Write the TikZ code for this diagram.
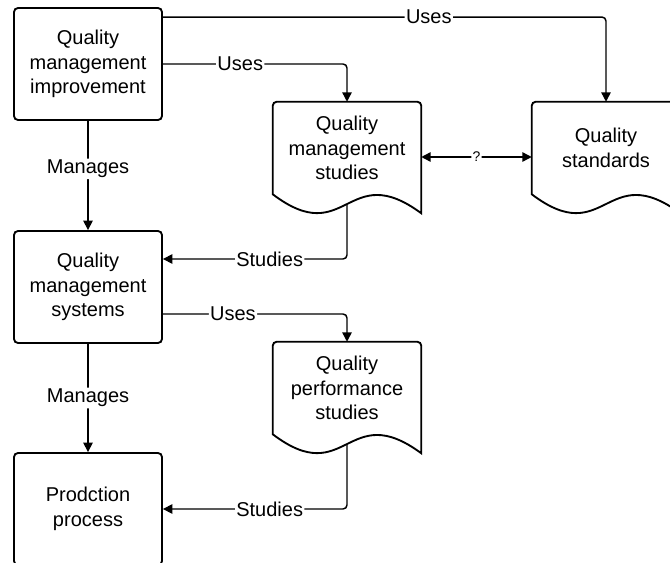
\documentclass[tikz,border=0pt]{standalone}
\usepackage{fontspec}
\setmainfont{Liberation Sans}
\usetikzlibrary{arrows.meta,calc}

% outline of a document shape around a named node
\newcommand{\docoutline}[1]{%
  \draw[line width=1.4pt] (#1.south west) [rounded corners=3pt] -- (#1.north west) -- (#1.north east) [sharp corners]
    -- ($(#1.south east)+(0,-19)$) .. controls ($(#1.south west)+(74,36)$) and ($(#1.south west)+(74,-56)$) .. (#1.south west) -- cycle;}

\begin{document}
\begin{tikzpicture}[x=0.75pt, y=0.75pt,
    box/.style={draw, line width=1.4pt, rounded corners=3pt, minimum width=111pt, minimum height=84pt, inner sep=0pt, align=center, font=\fontsize{15pt}{18.5pt}\selectfont},
    doc/.style={minimum width=111pt, minimum height=69pt, inner sep=0pt, align=center, font=\fontsize{15pt}{18.5pt}\selectfont},
    conn/.style={line width=1.1pt, rounded corners=3pt, -{Triangle[length=7pt,width=7pt]}},
    lbl/.style={fill=white, inner sep=1pt, font=\fontsize{15pt}{18pt}\selectfont}
]
\useasboundingbox (0,0) rectangle (670,-563);

% Boxes
\node[box] (qmi) at (88,-64) {Quality\\management\\improvement};
\node[box] (qms) at (88,-287) {Quality\\management\\systems};
\node[box] (pp) at (88,-509) {Prodction\\process};

% Documents
\node[doc] (qmstud) at (347,-148) {Quality\\management\\studies};
\node[doc] (qstd) at (606,-148) {Quality\\standards};
\node[doc] (qps) at (347,-388) {Quality\\performance\\studies};
\docoutline{qmstud}
\docoutline{qstd}
\docoutline{qps}

% Connections
\draw[conn] ($(qmi.north east)+(0,-10)$) -| node[lbl, pos=0.3] {Uses} (qstd.north);
\draw[conn] (qmi.east) -| node[lbl, pos=0.21] {Uses} (qmstud.north);
\draw[conn] (qmi) -- node[lbl, pos=0.44] {Manages} (qms);
\draw[conn] ($(qmstud.south)+(0,-10)$) |- node[lbl, pos=0.71] {Studies} ($(qms.east)+(0,28)$);
\draw[conn, {Triangle[length=7pt,width=7pt]}-{Triangle[length=7pt,width=7pt]}] ($(qmstud.east)+(0,-9)$) -- node[lbl, font=\fontsize{10.5pt}{12pt}\selectfont] {?} ($(qstd.west)+(0,-9)$);
\draw[conn] ($(qms.east)+(0,-27)$) -| node[lbl, pos=0.19] {Uses} (qps.north);
\draw[conn] (qms) -- node[lbl] {Manages} (pp);
\draw[conn] ($(qps.south)+(0,-10)$) |- node[lbl, pos=0.71] {Studies} (pp.east);

\end{tikzpicture}
\end{document}
